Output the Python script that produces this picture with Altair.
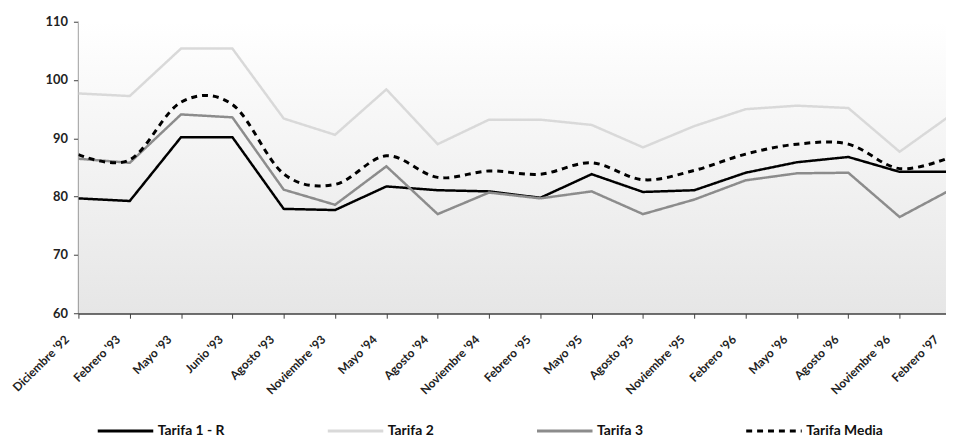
import altair as alt
import pandas as pd

categories = ["Diciembre '92", "Febrero '93", "Mayo '93", "Junio '93", "Agosto '93",
              "Noviembre '93", "Mayo '94", "Agosto '94", "Noviembre '94", "Febrero '95",
              "Mayo '95", "Agosto '95", "Noviembre '95", "Febrero '96", "Mayo '96",
              "Agosto '96", "Noviembre '96", "Febrero '97"]
series_names = ["Tarifa 1 - R", "Tarifa 2", "Tarifa 3", "Tarifa Media"]
tarifa_1r = [79.7, 79.25, 90.2, 90.2, 77.9, 77.7, 81.75, 81.1, 80.9, 79.8, 83.85, 80.8,
             81.1, 84.1, 85.9, 86.8, 84.25, 84.25]
tarifa_2 = [97.7, 97.25, 105.4, 105.4, 93.4, 90.6, 98.4, 89.0, 93.2, 93.2, 92.3, 88.45,
            92.1, 95.0, 95.6, 95.2, 87.7, 94.0]
tarifa_3 = [86.5, 85.8, 94.1, 93.6, 81.2, 78.6, 85.2, 77.0, 80.7, 79.7, 80.9, 77.0,
            79.5, 82.8, 84.0, 84.1, 76.5, 81.2]
tarifa_media = [87.2, 86.3, 96.2, 95.8, 83.9, 82.1, 87.0, 83.3, 84.4, 83.85, 85.8, 82.9,
                84.5, 87.3, 89.0, 89.0, 84.8, 86.8]

rows = []
for name, vals in zip(series_names, [tarifa_1r, tarifa_2, tarifa_3, tarifa_media]):
    for c, v in zip(categories, vals):
        rows.append({"periodo": c, "valor": v, "serie": name})
df = pd.DataFrame(rows)

FONT = "Lato"
W, H = 875, 294

x_enc = alt.X("periodo:N", sort=categories, title=None,
              scale=alt.Scale(type="point", padding=0, range=[0, 880]),
              axis=alt.Axis(labelAngle=-45, labelAlign="right", labelBaseline="middle",
                            labelFontSize=12, labelFont=FONT, labelFontWeight="bold",
                            labelColor="#222222", labelPadding=19, tickSize=5,
                            labelOffset={"condition": {"test": "datum.value == \"Febrero '97\"",
                                                       "value": -15},
                                         "value": -12},
                            tickColor="#404040", domainColor="#404040", domainWidth=2,
                            labelOverlap=False, labelBound=False))
y_enc = alt.Y("valor:Q", title=None,
              scale=alt.Scale(domain=[60, 110], nice=False, zero=False),
              axis=alt.Axis(values=[60, 70, 80, 90, 100, 110], grid=False,
                            labelFontSize=13, labelFont=FONT, labelFontWeight="bold",
                            labelColor="#222222", labelPadding=6, tickSize=5,
                            tickColor="#404040", domainColor="#404040", domainWidth=2))
color_enc = alt.Color("serie:N", sort=series_names,
                      scale=alt.Scale(domain=series_names,
                                      range=["#000000", "#d9d9d9", "#8c8c8c", "#000000"]),
                      legend=alt.Legend(title=None, orient="none", direction="horizontal",
                                        legendX=18, legendY=383, symbolType="stroke",
                                        symbolSize=3136, symbolStrokeWidth=3,
                                        labelFontSize=14, labelFont=FONT,
                                        labelFontWeight="bold", labelColor="#111111",
                                        labelOffset=3, columnPadding=97))
dash_enc = alt.StrokeDash("serie:N", sort=series_names,
                          scale=alt.Scale(domain=series_names,
                                          range=[[1, 0], [1, 0], [1, 0], [6, 5]]),
                          legend=None)

gradient = alt.LinearGradient(gradient="linear", x1=0, y1=0, x2=0, y2=1,
                              stops=[alt.GradientStop(color="#ffffff", offset=0),
                                     alt.GradientStop(color="#e6e6e6", offset=1)])
bg = alt.Chart(pd.DataFrame({"k": [0]})).mark_rect(fill=gradient, strokeWidth=0).encode(
    x=alt.value(0), x2=alt.value(W), y=alt.value(0), y2=alt.value(H))

base = alt.Chart(df).encode(x=x_enc, y=y_enc, color=color_enc, strokeDash=dash_enc)

plain = base.transform_filter(alt.datum.serie != "Tarifa Media").mark_line(
    strokeWidth=2.5, clip=True)
smooth = base.transform_filter(alt.datum.serie == "Tarifa Media").mark_line(
    strokeWidth=3, interpolate="cardinal", clip=True)

chart = alt.layer(bg, plain, smooth).properties(
    width=W, height=H,
    autosize=alt.AutoSizeParams(type="none"),
    padding={"left": 71, "top": 12, "right": 0, "bottom": 126},
).configure_view(stroke=None)

chart.save("out.html", embed_options={"renderer": "svg", "actions": False})
